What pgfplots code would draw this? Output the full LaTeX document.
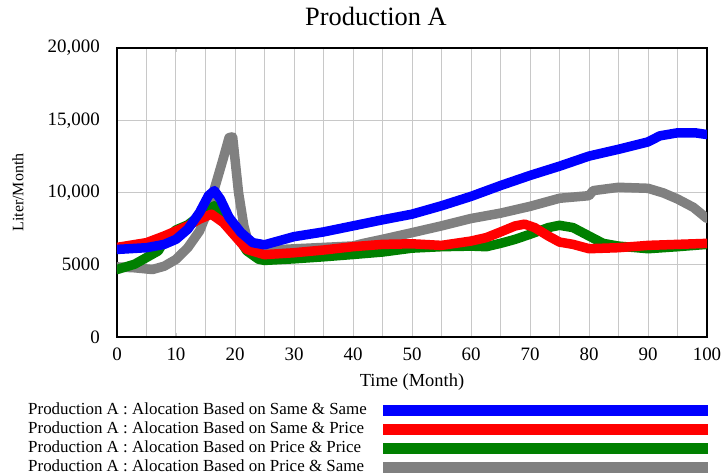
\documentclass[border=0pt]{standalone}
\usepackage{pgfplots}
\pgfplotsset{compat=1.18}
\usepackage{fontspec}
\setmainfont{Liberation Serif}
\definecolor{cblue}{RGB}{0,0,255}
\definecolor{cred}{RGB}{255,0,0}
\definecolor{cgreen}{RGB}{0,128,0}
\definecolor{cgray}{RGB}{128,128,128}
\definecolor{gridc}{RGB}{200,200,200}
\begin{document}
\begin{tikzpicture}
\useasboundingbox (-117bp,-138bp) rectangle (606bp,337bp);
\begin{axis}[
  scale only axis, width=590bp, height=289bp,
  xmin=0, xmax=100, ymin=0, ymax=20000,
  xtick={0,10,...,100}, minor x tick num=1,
  ytick={0,5000,10000,15000,20000},
  yticklabels={0,5000,{10,000},{15,000},{20,000}},
  scaled y ticks=false,
  grid=both,
  major grid style={gridc, line width=1bp},
  minor grid style={gridc, line width=1bp},
  axis line style={black, line width=1.6bp},
  tick style={gridc, line width=0.8bp},
  major tick length=4bp, minor tick length=4bp,
  /pgf/number format/assume math mode=true,
  ticklabel style={font=\fontsize{19}{21}\selectfont},
  xticklabel style={anchor=base, yshift=-23bp, inner sep=0pt},
  yticklabel style={anchor=east, inner sep=0pt, xshift=-17bp},
  title={Production A},
  title style={at={(0.439,1)}, anchor=base, yshift=17bp, font=\fontsize{26.5}{28}\selectfont},
  xlabel={Time (Month)},
  xlabel style={at={(axis description cs:0.5,0)}, anchor=base, yshift=-49bp, font=\fontsize{18.5}{20}\selectfont},
  ylabel={Liter/Month},
  ylabel style={at={(axis description cs:-0.1678,0.5)}, anchor=center, font=\fontsize{16}{18}\selectfont},
  legend plot pos=right,
  legend cell align=left,
  reverse legend,
  legend style={at={(1.012,-0.2197)}, anchor=north east, draw=none, fill=none,
    inner sep=0pt, row sep=0pt, column sep=10bp,
    font=\fontsize{17}{19}\selectfont,
    nodes={text height=13bp, text depth=4bp, inner sep=1bp}},
  legend image code/.code={\draw[#1, line width=11bp, line cap=butt] (0bp,0bp) -- (325bp,0bp);},
  every axis plot/.append style={line width=9.5bp, line join=round, line cap=round},
]
% gray: Price & Same
\addplot[cgray] coordinates {
(0,4850) (3,4790) (6,4670) (8,4900) (10,5370) (12,6180) (14,7340) (15.5,8850)
(17,10940) (18,12340) (19,13800) (19.6,13850) (20.6,10000) (21.5,7690) (22.1,6760)
(23,6300) (25,6000) (30,6100) (35,6200) (40,6300) (42,6500) (45,6760) (50,7220)
(55,7690) (60,8200) (65,8570) (70,9040) (75,9600) (80,9780) (80.7,10130) (85,10360)
(90,10290) (92.6,9970) (95,9550) (97.7,8970) (100,8200)};
% green: Price & Price
\addplot[cgreen] coordinates {
(0,4670) (3,5040) (5,5500) (7,5960) (8,6650) (10,7410) (12,7760) (14,8390) (16.5,9080)
(18,8620) (20,7230) (22,5960) (24,5380) (25,5300) (30,5410) (35,5550) (40,5710)
(45,5880) (50,6150) (55,6250) (60,6290) (62.6,6250) (65,6480) (67.5,6760) (70,7110)
(73.1,7570) (75,7730) (77.3,7570) (80,6990) (82.4,6480) (85,6290) (90,6110) (95,6250) (100,6410)};
% red: Same & Price
\addplot[cred] coordinates {
(0,6200) (5,6530) (8,6990) (10,7340) (12,7690) (14,8160) (16,8500) (18,7920)
(20,6990) (22,6060) (25,5700) (30,5830) (35,6020) (40,6250) (45,6410) (50,6450)
(55,6340) (60,6640) (62.6,6880) (65,7270) (67.5,7690) (69.1,7810) (70.8,7570)
(73.1,6990) (75,6570) (77.3,6410) (80,6110) (85,6180) (90,6340) (95,6410) (100,6480)};
% blue: Same & Same
\addplot[cblue] coordinates {
(0,6060) (5,6180) (8,6410) (10,6760) (12,7460) (14,8620) (15.5,9780) (16.5,10130)
(17.5,9550) (19,8270) (21,7230) (23,6530) (25,6380) (30,6946) (35,7270) (40,7690)
(45,8110) (50,8500) (55,9080) (60,9730) (65,10480) (70,11180) (75,11820) (80,12520)
(85,12990) (90,13500) (92,13920) (95,14130) (98,14130) (100,14010)};
\legend{Production A : Alocation Based on Price \& Same,
        Production A : Alocation Based on Price \& Price,
        Production A : Alocation Based on Same \& Price,
        Production A : Alocation Based on Same \& Same}
\end{axis}
\end{tikzpicture}
\end{document}
